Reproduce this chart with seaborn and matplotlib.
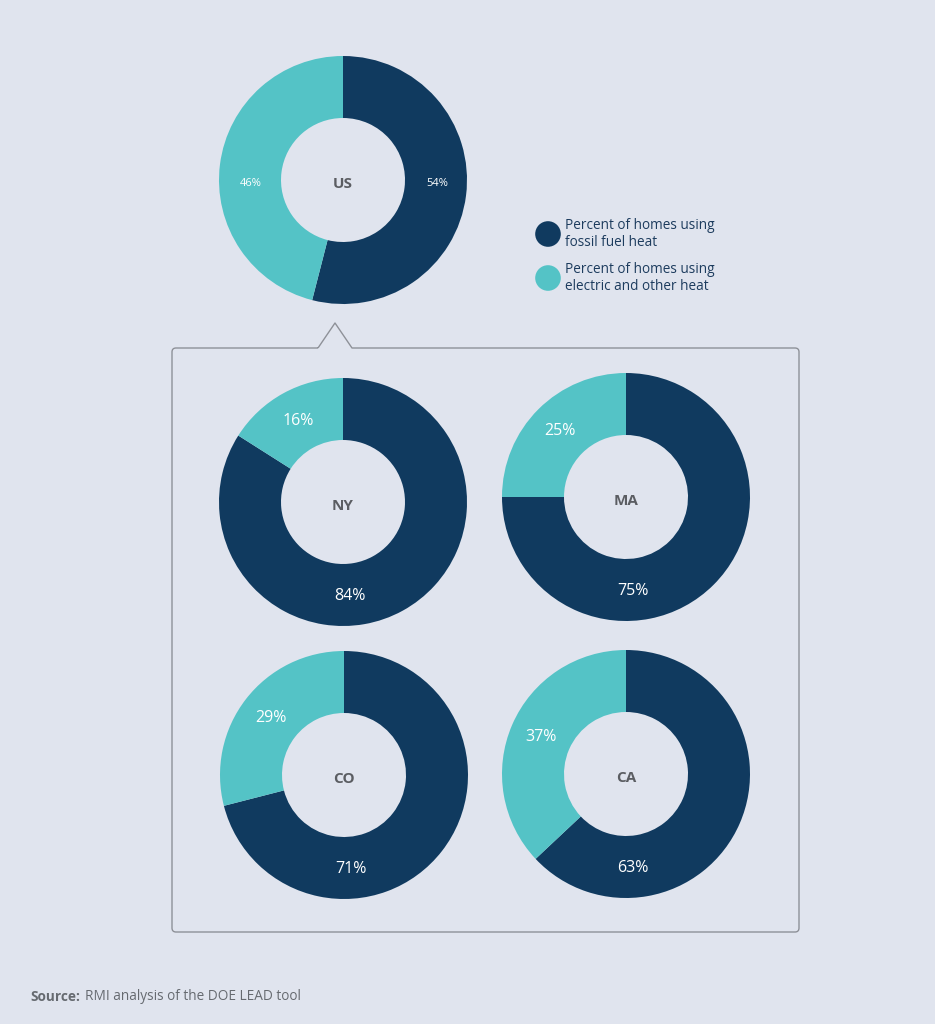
import numpy as np
import matplotlib
matplotlib.use("Agg")
import matplotlib.pyplot as plt
from matplotlib.path import Path
from matplotlib.patches import PathPatch
import seaborn as sns

# data
regions = ["US", "NY", "MA", "CO", "CA"]
fossil_pct = [54, 84, 75, 71, 63]
electric_pct = [46, 16, 25, 29, 37]
legend_labels = ["Percent of homes using\nfossil fuel heat",
                 "Percent of homes using\nelectric and other heat"]
source_text = "RMI analysis of the DOE LEAD tool"

sns.set_style("white")
plt.rcParams['font.family'] = ['Open Sans', 'DejaVu Sans']

bg = "#e0e4ee"
navy, teal = sns.color_palette(["#103a5f", "#54c3c6"])
W, H = 935, 1024

fig = plt.figure(figsize=(W / 100, H / 100), dpi=100)
fig.patch.set_facecolor(bg)

# full-figure axes in pixel coords for the box, legend and source
base = fig.add_axes([0, 0, 1, 1], zorder=0)
base.set_xlim(0, W)
base.set_ylim(H, 0)
base.axis("off")

# callout box with pointer
r = 4
x0, x1, y0, y1 = 172, 799, 348, 932
verts = [(318, y0), (x0 + r, y0), (x0, y0), (x0, y0 + r), (x0, y1 - r), (x0, y1),
         (x0 + r, y1), (x1 - r, y1), (x1, y1), (x1, y1 - r), (x1, y0 + r), (x1, y0),
         (x1 - r, y0), (352, y0), (335, 323), (318, y0)]
codes = [Path.MOVETO, Path.LINETO, Path.CURVE3, Path.CURVE3, Path.LINETO, Path.CURVE3,
         Path.CURVE3, Path.LINETO, Path.CURVE3, Path.CURVE3, Path.LINETO, Path.CURVE3,
         Path.CURVE3, Path.LINETO, Path.LINETO, Path.LINETO]
base.add_patch(PathPatch(Path(verts, codes), facecolor="none", edgecolor="#8e9198",
                         lw=1.0, joinstyle="round"))

# legend
for (cy, col, lab) in zip([234, 278], [navy, teal], legend_labels):
    base.scatter([548], [cy], s=340, color=col, edgecolors="none")
    base.text(565, cy, lab, color="#1d3c5e", fontsize=9.8, va="center", ha="left",
              linespacing=1.2)

base.text(30, 997, "Source:", fontsize=9.8, fontweight="bold", color="#666a70", va="center")
base.text(85, 997, source_text, fontsize=9.8, color="#666a70", va="center")

# donut positions (centre x, centre y) in pixels, outer radius R
centres = [(343, 180), (343, 502), (626, 497), (344, 775), (626, 774)]
R = 124

for i, (name, fos, ele) in enumerate(zip(regions, fossil_pct, electric_pct)):
    cx, cy = centres[i]
    ax = fig.add_axes([(cx - R) / W, 1 - (cy + R) / H, 2 * R / W, 2 * R / H], zorder=2)
    ax.pie([fos, ele], colors=[navy, teal], startangle=90, counterclock=False,
           radius=1, wedgeprops=dict(width=0.5, edgecolor="none"))
    ax.set_xlim(-1, 1)
    ax.set_ylim(-1, 1)
    ax.set_aspect("equal")
    ax.axis("off")

    if name == "US":
        # near-even split: labels sit left and right of centre
        ax.text(-0.74, -0.03, f"{ele}%", color="white", fontsize=8,
                ha="center", va="center")
        ax.text(0.76, -0.03, f"{fos}%", color="white", fontsize=8,
                ha="center", va="center")
    else:
        a_e = np.deg2rad(90 + ele / 100 * 180)
        ax.text(0.75 * np.cos(a_e), 0.75 * np.sin(a_e), f"{ele}%", color="white",
                fontsize=11.5, ha="center", va="center")
        a_f = np.deg2rad(-86)
        ax.text(0.76 * np.cos(a_f), 0.76 * np.sin(a_f), f"{fos}%", color="white",
                fontsize=11.5, ha="center", va="center")
    ax.text(0, -0.03, name, color="#5b5d62", fontsize=11, fontweight="bold",
            ha="center", va="center")

fig.savefig("out.png", dpi=100, facecolor=bg)
